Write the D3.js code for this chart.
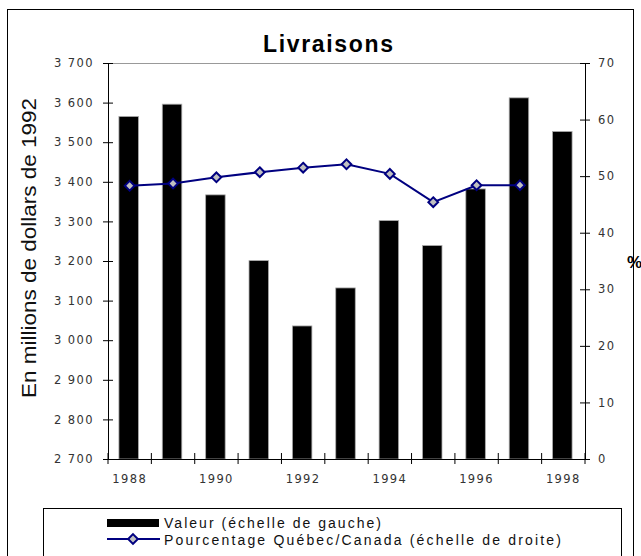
<!DOCTYPE html>
<html>
<head>
  <title>Livraisons</title>
  <script src="https://d3js.org/d3.v7.min.js"></script>
  <style>
    body { margin: 0; background: #fff; }
    svg { display: block; }
  </style>
</head>
<body>
<script type="text/javascript">
  // data
  var years = [1988, 1989, 1990, 1991, 1992, 1993, 1994, 1995, 1996, 1997, 1998];
  var valeur = [3565, 3596, 3367, 3201, 3036, 3132, 3302, 3239, 3382, 3612, 3527];
  var pourcentage = [48.3, 48.7, 49.8, 50.7, 51.5, 52.1, 50.4, 45.4, 48.4, 48.4];
  var leftTicks = [2700, 2800, 2900, 3000, 3100, 3200, 3300, 3400, 3500, 3600, 3700];
  var rightTicks = [0, 10, 20, 30, 40, 50, 60, 70];
  var xLabels = [1988, 1990, 1992, 1994, 1996, 1998];

  var w = 641;
  var h = 556;
  var pLeft = 108, pRight = 585, pTop = 63, pBottom = 459;

  var svg = d3.select("body").append("svg")
    .attr("width", w)
    .attr("height", h);

  // outer frame
  svg.append("rect")
    .attr("x", 7.5).attr("y", 9.5)
    .attr("width", 626).attr("height", 560)
    .attr("fill", "none").attr("stroke", "#000");

  var x = d3.scaleBand().domain(years).range([pLeft, pRight]).padding(0);
  var y = d3.scaleLinear().domain([2700, 3700]).range([pBottom, pTop]);
  var y2 = d3.scaleLinear().domain([0, 70]).range([pBottom, pTop]);

  var fr = d3.formatLocale({decimal: ",", thousands: " ", grouping: [3], currency: ["", ""]});
  var fmt = fr.format(",");

  // plot top border
  svg.append("line")
    .attr("x1", pLeft).attr("x2", pRight).attr("y1", pTop + 0.5).attr("y2", pTop + 0.5)
    .attr("stroke", "#999");

  // bars
  var bw = x.bandwidth() * 0.45;
  svg.selectAll("rect.bar")
    .data(valeur)
    .enter()
    .append("rect")
    .attr("class", "bar")
    .attr("x", function(d, i){ return x(years[i]) + x.bandwidth() / 2 - bw / 2 - 1; })
    .attr("y", function(d){ return y(d); })
    .attr("width", bw)
    .attr("height", function(d){ return pBottom - y(d); })
    .attr("fill", "#000")
    .attr("stroke", "#aaa")
    .attr("stroke-width", 0.8);

  // left axis
  var gl = svg.append("g")
    .attr("transform", "translate(" + pLeft + ",0)")
    .call(d3.axisLeft(y).tickValues(leftTicks).tickFormat(fmt).tickSize(5).tickPadding(9));
  gl.selectAll(".tick line").attr("x1", 5).attr("stroke", "#000");
  gl.select(".domain").attr("stroke", "#000");

  // right axis
  var gr = svg.append("g")
    .attr("transform", "translate(" + pRight + ",0)")
    .call(d3.axisRight(y2).tickValues(rightTicks).tickSize(5).tickPadding(8));
  gr.selectAll(".tick line").attr("x1", -5).attr("stroke", "#000");
  gr.select(".domain").attr("stroke", "#000");

  // bottom axis: ticks between categories, labels on every other year
  var gb = svg.append("g")
    .attr("transform", "translate(0," + pBottom + ")");
  gb.append("line")
    .attr("x1", pLeft - 4).attr("x2", pRight + 4)
    .attr("y1", 0.5).attr("y2", 0.5)
    .attr("stroke", "#000");
  gb.selectAll("line.tk")
    .data(years.concat(["end"]))
    .enter()
    .append("line")
    .attr("class", "tk")
    .attr("x1", function(d){ return d === "end" ? pRight : x(d); })
    .attr("x2", function(d){ return d === "end" ? pRight : x(d); })
    .attr("y1", -6).attr("y2", 5)
    .attr("stroke", "#000");
  gb.selectAll("text")
    .data(xLabels)
    .enter()
    .append("text")
    .attr("x", function(d){ return x(d) + x.bandwidth() / 2; })
    .attr("y", 24)
    .attr("text-anchor", "middle")
    .text(function(d){ return d; });

  svg.selectAll(".tick text, g text")
    .attr("font-family", "DejaVu Sans")
    .attr("font-size", "11.5px")
    .attr("letter-spacing", "1.4px")
    .attr("fill", "#333");

  // line series
  var line = d3.line()
    .x(function(d, i){ return x(years[i]) + x.bandwidth() / 2; })
    .y(function(d){ return y2(d); });
  svg.append("path")
    .datum(pourcentage)
    .attr("d", line)
    .attr("fill", "none")
    .attr("stroke", "#000080")
    .attr("stroke-width", 2);

  var diamond = d3.symbol().type(d3.symbolDiamond2).size(60);
  svg.selectAll("path.mk")
    .data(pourcentage)
    .enter()
    .append("path")
    .attr("class", "mk")
    .attr("d", diamond)
    .attr("transform", function(d, i){
      return "translate(" + (x(years[i]) + x.bandwidth() / 2) + "," + y2(d) + ")";
    })
    .attr("fill", "#c0c0c0")
    .attr("stroke", "#000080")
    .attr("stroke-width", 2);

  // titles
  svg.append("text")
    .attr("x", 263).attr("y", 52)
    .attr("font-family", "Liberation Sans")
    .attr("font-weight", "bold")
    .attr("font-size", "23px")
    .attr("textLength", 130)
    .attr("lengthAdjust", "spacing")
    .text("Livraisons");

  svg.append("text")
    .attr("transform", "translate(36,398) rotate(-90)")
    .attr("font-family", "Liberation Sans")
    .attr("font-size", "21px")
    .attr("fill", "#111")
    .attr("textLength", 300)
    .attr("lengthAdjust", "spacingAndGlyphs")
    .text("En millions de dollars de 1992");

  svg.append("text")
    .attr("x", 627).attr("y", 268)
    .attr("font-family", "Liberation Sans")
    .attr("font-weight", "bold")
    .attr("font-size", "17px")
    .text("%");

  // legend
  var lg = svg.append("g");
  lg.append("rect")
    .attr("x", 43.5).attr("y", 508.5)
    .attr("width", 578).attr("height", 60)
    .attr("fill", "#fff").attr("stroke", "#000");
  lg.append("rect")
    .attr("x", 107).attr("y", 519)
    .attr("width", 52).attr("height", 8)
    .attr("fill", "#000");
  lg.append("line")
    .attr("x1", 107).attr("x2", 160).attr("y1", 539).attr("y2", 539)
    .attr("stroke", "#000080").attr("stroke-width", 2);
  lg.append("path")
    .attr("d", diamond)
    .attr("transform", "translate(133,539)")
    .attr("fill", "#c0c0c0")
    .attr("stroke", "#000080")
    .attr("stroke-width", 2);
  var legendText = ["Valeur (échelle de gauche)", "Pourcentage Québec/Canada (échelle de droite)"];
  var legendLen = [217, 397];
  lg.selectAll("text.lt")
    .data(legendText)
    .enter()
    .append("text")
    .attr("class", "lt")
    .attr("x", 164)
    .attr("y", function(d, i){ return 528 + i * 17; })
    .attr("font-family", "Liberation Sans")
    .attr("font-size", "14px")
    .attr("fill", "#111")
    .attr("textLength", function(d, i){ return legendLen[i]; })
    .attr("lengthAdjust", "spacing")
    .text(function(d){ return d; });
</script>
</body>
</html>
